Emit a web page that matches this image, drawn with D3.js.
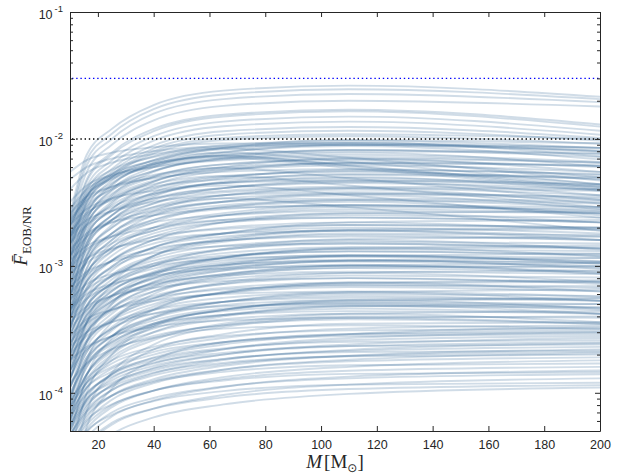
<!DOCTYPE html>
<html>
<head>
<meta charset="utf-8">
<script src="https://cdn.jsdelivr.net/npm/d3@7"></script>
<style>
  body { margin: 0; background: #fff; }
  .tick text { font-family: "Liberation Sans", Arial, sans-serif; font-size: 12.5px; fill: #262626; }
  .domain, .tick line { stroke: #262626; stroke-width: 1; }
</style>
</head>
<body>
<div id="okvir"></div>
<script>
// mase na kojima su ocitane vrijednosti (M_sun)
const masses = [10, 16, 25, 40, 65, 110, 200]
// vrijednosti su u jedinicama 1e-4
const UNIT = 1e-4

const topCurves = [
  [25, 75, 120, 185, 240, 263, 215],
  [23, 68, 110, 172, 224, 246, 206],
  [22, 62, 100, 158, 206, 226, 195],
  [20, 55, 90, 140, 182, 200, 180],
  [18, 48, 78, 120, 155, 170, 130],
  [17, 46, 75, 115, 150, 165, 125],
  [16, 42, 68, 105, 137, 150, 116],
  [15, 39, 63, 97, 126, 137, 108],
  [14, 36, 58, 89, 115, 124, 102],
  [13, 34, 55, 84, 108, 116, 97],
  [12, 32, 52, 80, 102, 109, 100],
  [12, 31, 50, 77, 98, 105, 92]
]

const upperCurves = [
  [10, 25, 43, 65, 85, 98, 92],
  [17, 35, 53, 73, 89, 97, 85],
  [11, 28, 47, 68, 85, 94, 73],
  [9.2, 23, 40, 60, 78, 90, 85],
  [16, 32, 50, 68, 83, 90, 79],
  [11, 26, 44, 63, 79, 88, 69],
  [24, 41, 57, 72, 84, 71, 47],
  [8.4, 21, 36, 55, 71, 82, 77],
  [15, 30, 45, 62, 75, 82, 72],
  [22, 38, 53, 67, 78, 66, 44],
  [9.4, 23, 39, 56, 70, 78, 61],
  [21, 36, 50, 64, 74, 62, 42],
  [14, 27, 41, 56, 69, 75, 66],
  [21, 36, 49, 62, 73, 61, 41],
  [20, 35, 48, 60, 71, 59, 40],
  [7.1, 18, 31, 46, 60, 70, 65],
  [8.4, 21, 35, 50, 63, 70, 55],
  [12, 24, 37, 51, 63, 68, 60],
  [6.6, 17, 28, 43, 56, 65, 61],
  [7.7, 19, 32, 46, 58, 64, 50],
  [11, 22, 34, 47, 57, 62, 55],
  [17, 29, 40, 50, 59, 49, 33],
  [5.8, 15, 25, 38, 49, 57, 53],
  [6.7, 17, 28, 40, 50, 56, 44],
  [9.9, 20, 30, 41, 51, 55, 48],
  [5.4, 14, 23, 35, 46, 53, 50],
  [15, 25, 34, 44, 51, 43, 29],
  [6, 15, 25, 36, 45, 50, 39],
  [8.8, 18, 27, 37, 45, 49, 43],
  [4.8, 12, 21, 31, 41, 47, 44],
  [5.5, 14, 23, 33, 41, 46, 36],
  [8.1, 16, 25, 34, 41, 45, 40],
  [12, 21, 29, 37, 43, 36, 24],
  [4.2, 11, 18, 27, 36, 41, 39],
  [7.4, 15, 23, 31, 38, 41, 36],
  [4.8, 12, 20, 29, 36, 40, 31],
  [3.8, 9.5, 16, 25, 32, 37, 35],
  [6.7, 13, 20, 28, 34, 37, 33],
  [4.3, 11, 18, 26, 32, 36, 28],
  [9.8, 17, 23, 29, 34, 29, 19],
  [3.4, 8.5, 15, 22, 29, 33, 31],
  [5.9, 12, 18, 25, 30, 33, 29],
  [3.8, 9.6, 16, 23, 29, 32, 25],
  [3.1, 7.8, 13, 20, 26, 30, 29],
  [5.4, 11, 17, 23, 28, 30, 26]
]

const middleCurves = [
  [4.4, 8.7, 14, 19, 25, 29, 28],
  [6.2, 11, 15, 20, 25, 28, 26],
  [3.2, 6.8, 11, 16, 22, 26, 27],
  [4.7, 8.8, 14, 19, 23, 26, 22],
  [3.8, 7.5, 12, 17, 22, 25, 24],
  [5.3, 9.1, 13, 18, 22, 24, 22],
  [2.8, 5.8, 9.2, 14, 18, 22, 23],
  [4, 7.5, 11, 16, 20, 22, 19],
  [3.2, 6.3, 9.9, 14, 18, 21, 20],
  [4.4, 7.6, 11, 15, 18, 20, 18],
  [2.3, 4.9, 7.8, 12, 16, 19, 19.5],
  [3.4, 6.5, 9.9, 14, 17, 19, 16],
  [2.7, 5.4, 8.5, 12, 15.5, 18, 17.5],
  [3.9, 6.7, 9.6, 13, 15.8, 17.5, 16],
  [2, 4.3, 6.8, 10, 13.6, 16.3, 17],
  [2.9, 5.4, 8.3, 11.5, 14.4, 16, 13.6],
  [2.3, 4.7, 7.3, 10.4, 13.3, 15.5, 15],
  [3.3, 5.7, 8.3, 11, 13.5, 15, 13.8],
  [1.7, 3.6, 5.8, 8.7, 11.6, 13.9, 14.5],
  [2.5, 4.8, 7.3, 10, 12.6, 14, 11.9],
  [2, 4, 6.3, 9, 11.6, 13.5, 13.1],
  [2.9, 4.9, 7.2, 9.5, 11.7, 13, 12],
  [1.5, 3.1, 5, 7.5, 10, 12, 12.5],
  [2.2, 4.1, 6.3, 8.8, 11, 12.2, 10.4],
  [1.8, 3.6, 5.6, 8, 10.3, 12, 11.6],
  [2.6, 4.5, 6.5, 8.6, 10.6, 11.8, 10.9],
  [1.4, 2.9, 4.6, 6.9, 9.2, 11, 11.5],
  [2, 3.8, 5.8, 8.1, 10.1, 11.2, 9.5],
  [1.7, 3.3, 5.2, 7.4, 9.5, 11, 10.7],
  [2.4, 4.1, 5.9, 7.9, 9.7, 10.8, 9.9],
  [1.3, 2.6, 4.2, 6.3, 8.4, 10.1, 10.5],
  [1.8, 3.5, 5.3, 7.3, 9.2, 10.2, 8.7],
  [1.5, 3, 4.7, 6.7, 8.6, 10, 9.7],
  [2.1, 3.6, 5.3, 7, 8.6, 9.6, 8.8],
  [1.1, 2.3, 3.7, 5.5, 7.4, 8.8, 9.2],
  [1.6, 3, 4.6, 6.3, 7.9, 8.8, 7.5],
  [1.3, 2.5, 3.9, 5.6, 7.2, 8.4, 8.1],
  [1.8, 3, 4.4, 5.8, 7.2, 8, 7.4],
  [0.92, 1.9, 3.1, 4.6, 6.2, 7.4, 7.7],
  [1.3, 2.5, 3.8, 5.3, 6.7, 7.4, 6.3],
  [1.1, 2.1, 3.3, 4.8, 6.1, 7.1, 6.9],
  [1.5, 2.6, 3.7, 5, 6.1, 6.8, 6.3],
  [0.78, 1.6, 2.6, 3.9, 5.2, 6.2, 6.5],
  [1.1, 2.1, 3.2, 4.5, 5.6, 6.2, 5.3],
  [0.9, 1.8, 2.8, 4, 5.2, 6, 5.8],
  [1.3, 2.2, 3.2, 4.2, 5.2, 5.8, 5.3],
  [0.67, 1.4, 2.2, 3.4, 4.5, 5.4, 5.6],
  [0.97, 1.8, 2.8, 3.9, 4.9, 5.4, 4.6],
  [0.78, 1.6, 2.4, 3.5, 4.5, 5.2, 5],
  [1.1, 1.9, 2.8, 3.7, 4.6, 5.1, 4.7],
  [0.6, 1.25, 2, 3, 4, 4.8, 5],
  [0.88, 1.7, 2.5, 3.5, 4.4, 4.9, 4.2],
  [0.72, 1.4, 2.3, 3.2, 4.1, 4.8, 4.7],
  [1, 1.7, 2.5, 3.4, 4.1, 4.6, 4.2],
  [0.53, 1.1, 1.8, 2.6, 3.5, 4.2, 4.4],
  [0.76, 1.4, 2.2, 3, 3.8, 4.2, 3.6],
  [0.6, 1.2, 1.9, 2.7, 3.4, 4, 3.9],
  [0.84, 1.4, 2.1, 2.8, 3.4, 3.8, 3.5],
  [0.43, 0.9, 1.4, 2.2, 2.9, 3.5, 3.6]
]

// krivulje koje polaze visoko i sporo rastu
const gentleCurves = [
  [55, 68, 78, 86, 92, 93, 80],
  [48, 60, 70, 80, 88, 92, 85],
  [40, 54, 65, 76, 86, 90, 81],
  [28, 40, 51, 64, 74, 80, 76],
  [32, 43, 52, 60, 68, 72, 65],
  [23, 33, 42, 52, 60, 65, 62],
  [26, 35, 42, 49, 55, 58, 52],
  [18, 26, 33, 42, 48, 52, 49],
  [21, 28, 34, 39, 45, 47, 42],
  [15, 21, 27, 34, 39, 42, 40],
  [17, 23, 27, 32, 36, 38, 34],
  [12, 17, 22, 27, 32, 34, 32],
  [13.5, 18, 22, 25, 28.5, 30, 27],
  [9.5, 13.5, 17, 22, 25, 27, 26],
  [11, 14.4, 17, 20, 23, 24, 22],
  [7.4, 10.5, 13.4, 17, 19.5, 21, 20],
  [8.6, 11.4, 13.7, 16, 18, 19, 17],
  [6, 8.5, 11, 13.6, 15.8, 17, 16],
  [6.8, 9, 10.8, 12.6, 14.3, 15, 13.5],
  [4.6, 6.5, 8.3, 10.4, 12, 13, 12.4],
  [5.4, 7.2, 8.6, 10, 11.4, 12, 10.8],
  [3.9, 5.5, 7, 8.8, 10.2, 11, 10.5],
  [4.5, 6, 7.2, 8.4, 9.5, 10, 9],
  [3.2, 4.5, 5.8, 7.2, 8.4, 9, 8.6],
  [3.6, 4.8, 5.8, 6.7, 7.6, 8, 7.2],
  [2.5, 3.5, 4.5, 5.6, 6.5, 7, 6.7],
  [2.8, 3.8, 4.5, 5.3, 6, 6.3, 5.7],
  [2, 2.8, 3.6, 4.5, 5.2, 5.6, 5.3],
  [2.3, 3, 3.6, 4.2, 4.8, 5, 4.5],
  [1.5, 2.2, 2.8, 3.5, 4.1, 4.4, 4.2],
  [1.8, 2.3, 2.8, 3.3, 3.7, 3.9, 3.5],
  [1.2, 1.7, 2.2, 2.7, 3.2, 3.4, 3.2]
]

// krivulje koje polaze ispod osi i strmo rastu
const steepCurves = [
  [1.2, 3.6, 7.2, 12, 16.4, 19.4, 20],
  [0.84, 2.5, 5, 8.4, 11.5, 13.6, 14],
  [0.6, 1.8, 3.6, 6, 8.2, 9.7, 10],
  [0.45, 1.35, 2.7, 4.5, 6.2, 7.3, 7.5],
  [0.33, 1, 2, 3.3, 4.5, 5.3, 5.5],
  [0.24, 0.72, 1.44, 2.4, 3.3, 3.9, 4],
  [0.18, 0.54, 1.08, 1.8, 2.5, 2.9, 3]
]

const lowerCurves = [
  [0.75, 1.2, 1.7, 2.2, 2.7, 3.2, 3.4],
  [0.56, 0.96, 1.4, 1.9, 2.4, 2.9, 3.3],
  [0.86, 1.3, 1.8, 2.3, 2.8, 3.1, 3.2],
  [0.68, 1.1, 1.55, 2, 2.5, 2.9, 3.1],
  [0.51, 0.87, 1.3, 1.7, 2.2, 2.7, 3],
  [0.78, 1.2, 1.6, 2.1, 2.5, 2.8, 2.9],
  [0.62, 0.98, 1.4, 1.8, 2.2, 2.6, 2.8],
  [0.46, 0.78, 1.16, 1.57, 2, 2.4, 2.7],
  [0.7, 1.1, 1.46, 1.87, 2.24, 2.52, 2.6],
  [0.55, 0.88, 1.25, 1.63, 2, 2.33, 2.5],
  [0.42, 0.71, 1.05, 1.42, 1.81, 2.18, 2.45],
  [0.65, 1, 1.34, 1.73, 2.06, 2.33, 2.4],
  [0.51, 0.8, 1.15, 1.5, 1.84, 2.14, 2.3],
  [0.37, 0.64, 0.95, 1.28, 1.63, 1.96, 2.2],
  [0.58, 0.9, 1.2, 1.55, 1.85, 2.09, 2.15],
  [0.46, 0.74, 1.05, 1.37, 1.68, 1.95, 2.1],
  [0.35, 0.59, 0.88, 1.19, 1.52, 1.82, 2.05],
  [0.54, 0.84, 1.12, 1.44, 1.72, 1.94, 2],
  [0.42, 0.67, 0.95, 1.24, 1.52, 1.77, 1.9],
  [0.31, 0.52, 0.77, 1.04, 1.33, 1.6, 1.8],
  [0.46, 0.71, 0.95, 1.22, 1.46, 1.65, 1.7],
  [0.35, 0.56, 0.8, 1.04, 1.28, 1.49, 1.6],
  [0.26, 0.44, 0.65, 0.87, 1.11, 1.34, 1.5],
  [0.39, 0.61, 0.81, 1.04, 1.25, 1.41, 1.45],
  [0.31, 0.49, 0.7, 0.91, 1.12, 1.3, 1.4],
  [0.22, 0.38, 0.56, 0.75, 0.96, 1.16, 1.3],
  [0.32, 0.5, 0.67, 0.86, 1.03, 1.16, 1.2],
  [0.25, 0.4, 0.58, 0.75, 0.92, 1.07, 1.15],
  [0.19, 0.32, 0.47, 0.64, 0.81, 0.98, 1.1]
]

const xTicks = [20, 40, 60, 80, 100, 120, 140, 160, 180, 200]
const yMajor = [1e-4, 1e-3, 1e-2, 1e-1]
const yExponents = ["-4", "-3", "-2", "-1"]
const thresholds = [0.03, 0.01]

// 1. Dimenzije
const dim = { sirina: 630, visina: 475, left: 70, right: 600, top: 12, bottom: 431 }

const svg = d3.select("#okvir").append("svg")
    .attr("width", dim.sirina)
    .attr("height", dim.visina)

// 2. Skale
const x = d3.scaleLinear().domain([10, 200]).range([dim.left, dim.right])
const y = d3.scaleLog().domain([5e-5, 1e-1]).range([dim.bottom, dim.top])

svg.append("clipPath").attr("id", "clip")
  .append("rect")
    .attr("x", dim.left).attr("y", dim.top)
    .attr("width", dim.right - dim.left).attr("height", dim.bottom - dim.top)

// 3. Krivulje
const sveKrivulje = [...topCurves, ...upperCurves, ...gentleCurves, ...middleCurves, ...steepCurves, ...lowerCurves]

const linija = d3.line()
    .x((d, i) => x(masses[i]))
    .y(d => y(d * UNIT))
    .curve(d3.curveMonotoneX)

svg.append("g")
    .attr("clip-path", "url(#clip)")
  .selectAll("path")
  .data(sveKrivulje)
  .join("path")
    .attr("d", linija)
    .attr("fill", "none")
    .attr("stroke", "rgb(51,102,153)")
    .attr("stroke-opacity", 0.23)
    .attr("stroke-width", 1.9)

// granice
const boje = ["#0000ff", "#000000"]
svg.append("g").selectAll("line")
  .data(thresholds)
  .join("line")
    .attr("x1", dim.left + 2).attr("x2", dim.right)
    .attr("y1", d => y(d)).attr("y2", d => y(d))
    .attr("stroke", (d, i) => boje[i])
    .attr("stroke-width", 1.4)
    .attr("stroke-dasharray", "1.4 2.8")

// 4. Osi
const minorTicks = []
for (let e = -5; e <= -2; e++) for (let m = 2; m <= 9; m++) {
  const v = m * Math.pow(10, e)
  if (v >= 5e-5 && v < 1e-1) minorTicks.push(v)
}

svg.append("g")
    .attr("transform", `translate(0,${dim.bottom})`)
    .call(d3.axisBottom(x).tickValues(xTicks).tickSizeInner(-5).tickSizeOuter(0).tickPadding(9))

svg.append("g")
    .attr("transform", `translate(0,${dim.top})`)
    .call(d3.axisTop(x).tickValues(xTicks).tickSizeInner(-5).tickSizeOuter(0).tickFormat(""))

const yOs = svg.append("g")
    .attr("transform", `translate(${dim.left},0)`)
    .call(d3.axisLeft(y).tickValues(yMajor).tickSizeInner(-5).tickSizeOuter(0).tickFormat(""))

svg.append("g")
    .attr("transform", `translate(${dim.left},0)`)
    .call(d3.axisLeft(y).tickValues(minorTicks).tickSizeInner(-3).tickSizeOuter(0).tickFormat(""))
    .call(g => g.select(".domain").remove())

svg.append("g")
    .attr("transform", `translate(${dim.right},0)`)
    .call(d3.axisRight(y).tickValues(yMajor).tickSizeInner(-5).tickSizeOuter(0).tickFormat(""))

svg.append("g")
    .attr("transform", `translate(${dim.right},0)`)
    .call(d3.axisRight(y).tickValues(minorTicks).tickSizeInner(-3).tickSizeOuter(0).tickFormat(""))
    .call(g => g.select(".domain").remove())

const oznakeY = yOs.selectAll(".tick").append("text")
    .attr("x", -7)
    .attr("dy", "0.55em")
    .attr("text-anchor", "end")
    .style("font-size", "12.5px")
oznakeY.append("tspan").text("10")
oznakeY.append("tspan")
    .attr("dy", "-0.75em")
    .attr("dx", "2")
    .style("font-size", "9.5px")
    .text((d, i) => yExponents[i])

// 5. Naslovi osi
const xNaslov = svg.append("text")
    .attr("x", 335).attr("y", 468)
    .attr("text-anchor", "middle")
    .style("font-family", "'Liberation Serif', 'DejaVu Serif', serif")
    .style("font-size", "19px")
    .attr("fill", "#262626")
xNaslov.append("tspan").style("font-style", "italic").text("M")
xNaslov.append("tspan").attr("dx", 2).text("[M")
xNaslov.append("tspan").attr("dy", 4).style("font-size", "12px").style("font-family", "'DejaVu Sans', sans-serif").text("\u2299")
xNaslov.append("tspan").attr("dy", -4).text("]")

const yNaslov = svg.append("text")
    .attr("transform", "translate(27,236) rotate(-90)")
    .attr("text-anchor", "middle")
    .style("font-family", "'Liberation Serif', 'DejaVu Serif', serif")
    .style("font-size", "19px")
    .attr("fill", "#262626")
yNaslov.append("tspan").style("font-style", "italic").text("F\u0304")
yNaslov.append("tspan").attr("dy", 4).style("font-size", "13px").text("EOB/NR")
</script>
</body>
</html>
